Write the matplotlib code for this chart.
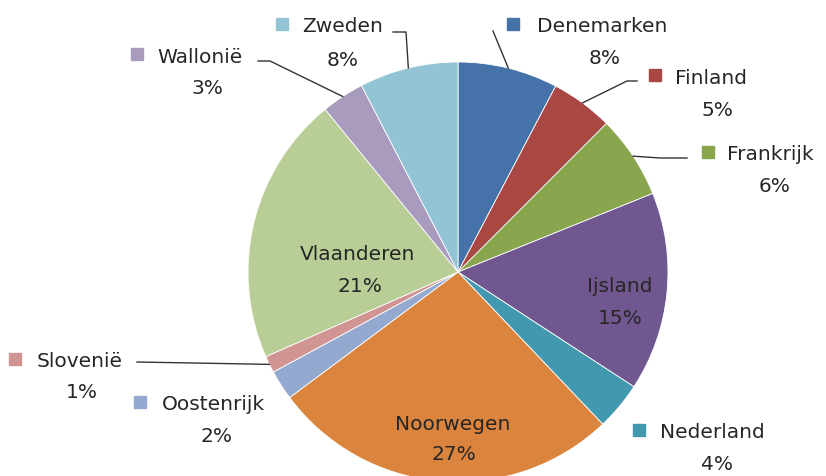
import matplotlib
matplotlib.use('Agg')
import matplotlib.pyplot as plt
import numpy as np

# data (percent shares)
names = ['Denemarken', 'Finland', 'Frankrijk', 'Ijsland', 'Nederland', 'Noorwegen',
         'Oostenrijk', 'Slovenië', 'Vlaanderen', 'Wallonië', 'Zweden']
shares = [7.7, 4.8, 6.4, 15.3, 3.7, 26.9, 2.3, 1.3, 20.7, 3.3, 7.6]
colors = ['#4572A8', '#A84744', '#89A54E', '#71578F', '#4298AF', '#DB843D',
          '#93A9D0', '#D09493', '#B9CD97', '#A99BBD', '#93C4D5']

W, H = 826, 477
CX, CY, R = 458, 273, 210  # pie centre / radius in pixels


def px(x, y):
    return (x - CX) / R, (CY - y) / R


# label layout in pixels: (square x or None, name x, name y, pct x, pct y, leader points)
layout = {
    'Denemarken': (513, 537, 27, 605, 58, [(493, 32)]),
    'Finland': (655, 675, 78, 717, 111, [(637, 82), (627, 82)]),
    'Frankrijk': (708, 727, 155, 775, 187, [(687, 159), (660, 159)]),
    'Ijsland': (None, 620, 287, 620, 318, None),
    'Nederland': (639, 660, 433, 717, 465, None),
    'Noorwegen': (None, 453, 425, 454, 455, None),
    'Oostenrijk': (140, 162, 405, 217, 437, None),
    'Slovenië': (15, 37, 362, 82, 393, [(137, 363)]),
    'Vlaanderen': (None, 358, 255, 360, 287, None),
    'Wallonië': (137, 157, 57, 207, 88, [(258, 62), (270, 62)]),
    'Zweden': (282, 302, 27, 343, 60, [(393, 33), (406, 33)]),
}

fig = plt.figure(figsize=(W / 100, H / 100), dpi=100)
ax = fig.add_axes([0, 0, 1, 1])
wedges, _ = ax.pie(shares, colors=colors, startangle=90, counterclock=False,
                   radius=1, wedgeprops=dict(edgecolor='white', linewidth=0.6))
ax.set_aspect('auto')
ax.set_xlim(-CX / R, (W - CX) / R)
ax.set_ylim(-(H - CY) / R, CY / R)
ax.axis('off')

font = dict(family=['DejaVu Sans'], fontsize=14.5, color='#262626')
for name, share, col, w in zip(names, shares, colors, wedges):
    sq, nx, ny, qx, qy, lead = layout[name]
    if sq is None:
        ax.text(*px(nx, ny), name, ha='center', va='center', **font)
    else:
        ax.plot(*px(sq, ny - 2), marker='s', markersize=8.5, color=col, lw=0)
        ax.text(*px(nx, ny), name, ha='left', va='center', **font)
    ax.text(*px(qx, qy), '%.0f%%' % share, ha='center', va='center', **font)
    if lead:
        mid = np.deg2rad((w.theta1 + w.theta2) / 2)
        pts = [px(*p) for p in lead] + [(np.cos(mid), np.sin(mid))]
        ax.plot([p[0] for p in pts], [p[1] for p in pts], color='#333333', lw=1)

fig.savefig('out.png', dpi=100)
